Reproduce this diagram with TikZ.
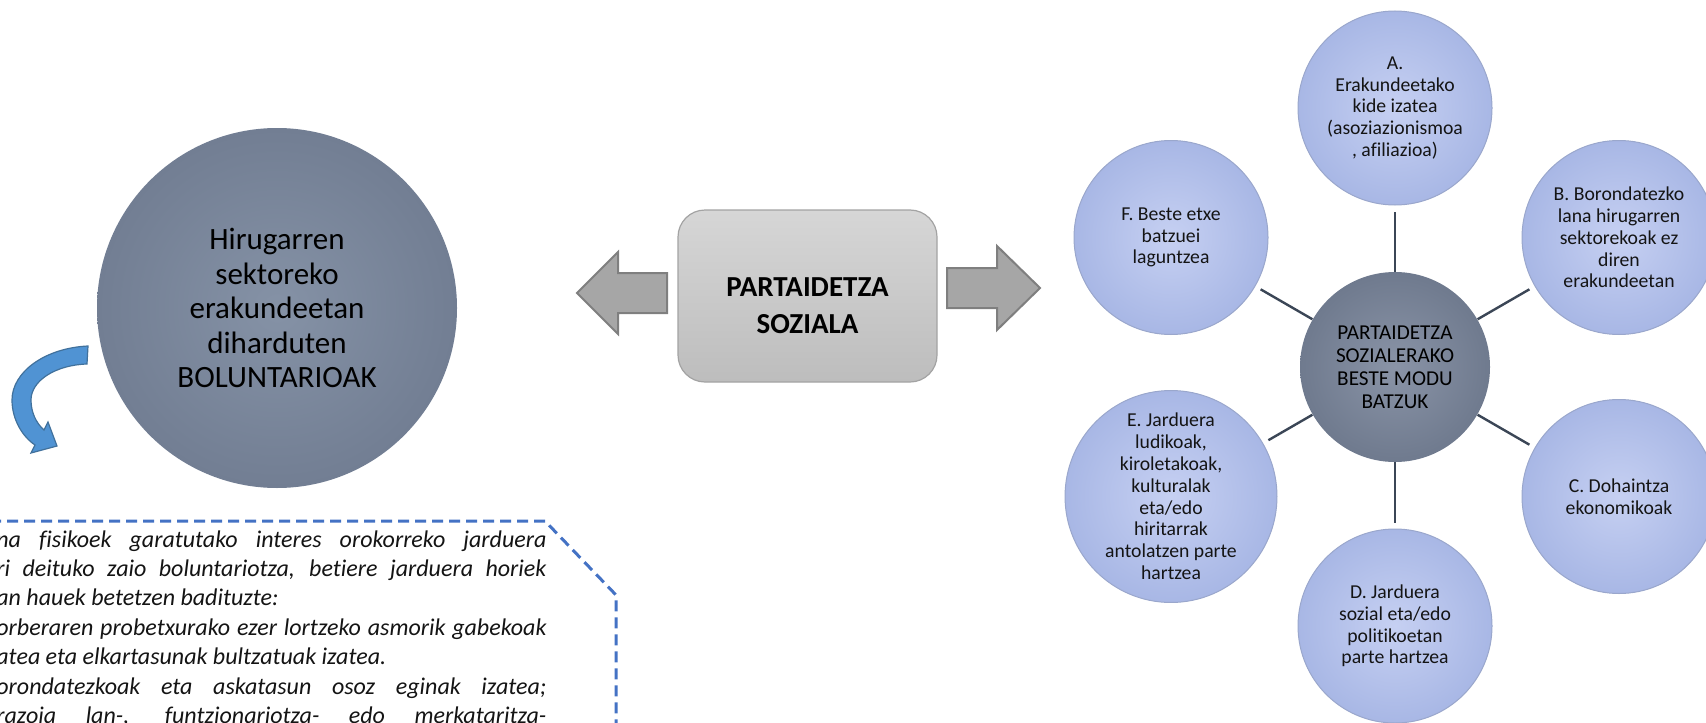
\documentclass[tikz,border=0pt]{standalone}
\usepackage{fontspec}
\setmainfont{Carlito}[Ligatures=NoCommon]
\definecolor{outin}{HTML}{C6D0F2}
\definecolor{outout}{HTML}{A8B7E5}
\definecolor{outrim}{HTML}{9AA7CC}
\definecolor{hubin}{HTML}{8A94A7}
\definecolor{hubout}{HTML}{6F7A8E}
\definecolor{bigin}{HTML}{8592A6}
\definecolor{bigout}{HTML}{727E93}
\definecolor{spokecol}{HTML}{3B4656}
\definecolor{arrowfill}{HTML}{A6A6A6}
\definecolor{arrowline}{HTML}{7F7F7F}
\definecolor{boxtop}{HTML}{D6D6D6}
\definecolor{boxbot}{HTML}{BDBDBD}
\definecolor{boxline}{HTML}{A3A3A3}
\definecolor{dashblue}{HTML}{4472C4}
\definecolor{curvefill}{HTML}{5093D3}
\definecolor{curveline}{HTML}{41719C}
\begin{document}
\begin{tikzpicture}[x=0.5pt,y=-0.5pt,
  outercirc/.style={circle, minimum size=97pt, inner sep=0pt, align=center,
    inner color=outin, outer color=outout, draw=outrim, line width=0.5pt, text=black!92,
    font=\fontsize{9.85}{10.9}\selectfont},
  hubcirc/.style={circle, minimum size=95pt, inner sep=0pt, align=center,
    inner color=hubin, outer color=hubout, text=black,
    font=\fontsize{10.6}{11.5}\selectfont},
  bigcirc/.style={circle, minimum size=180pt, inner sep=0pt, align=center,
    inner color=bigin, outer color=bigout, text=black,
    font=\fontsize{15.5}{17.25}\selectfont},
  spoke/.style={draw=spokecol, line width=1.2pt, shorten >=3pt},
  blockarrow/.style={fill=arrowfill, draw=arrowline, line width=1pt, line join=miter},
  centrebox/.style={rounded corners=13.5pt, minimum width=129.5pt, minimum height=86pt,
    draw=boxline, line width=0.6pt, top color=boxtop, bottom color=boxbot},
  boxtext/.style={align=center, font=\fontsize{14.5}{18.5}\selectfont\bfseries, text=black},
  dashedline/.style={draw=dashblue, line width=1.5pt, dash pattern=on 5.5pt off 3pt},
  deftextstyle/.style={anchor=north west, align=left, inner sep=0pt,
    font=\fontsize{12}{14.7}\selectfont\itshape, text=black!92},
]
\useasboundingbox (0,0) rectangle (1706,722);
\clip (0,0) rectangle (1706,722);

% left big circle
\node[bigcirc] (vol) at (277,308) {Hirugarren\\sektoreko\\erakundeetan\\diharduten\\BOLUNTARIOAK};

% curved blue arrow
\draw[fill=curvefill, draw=curveline, line width=0.6pt, line join=miter]
  (88,346) .. controls (45,348) and (12,372) .. (12,400)
  .. controls (12,420) and (23,437) .. (35,445)
  -- (31,453) -- (57,446) -- (48,422) -- (44,430)
  .. controls (36,423) and (31,412) .. (31,400)
  .. controls (31,381) and (55,365) .. (87,364) -- cycle;

% dashed frame
\draw[dashedline] (-10,521) -- (545,521) -- (616,595) -- (616,740);

% definition text
\node[deftextstyle] (deftext) at (-4,530) {%
\makebox[275pt][s]{na fisikoek garatutako interes orokorreko jarduera}\\
\makebox[275pt][s]{ri deituko zaio boluntariotza, betiere jarduera horiek}\\
\makebox[275pt][l]{an hauek betetzen badituzte:}\\
\makebox[275pt][s]{orberaren probetxurako ezer lortzeko asmorik gabekoak}\\
\makebox[275pt][l]{atea eta elkartasunak bultzatuak izatea.}\\
\makebox[275pt][s]{orondatezkoak eta askatasun osoz eginak izatea;}\\
\makebox[275pt][s]{razoia lan-, funtzionariotza- edo merkataritza-}};

% centre box and arrows
\node[centrebox] (sbox) at (807.5,296) {};
\node[boxtext] (sboxtext) at ([yshift=-5pt]sbox.center) {PARTAIDETZA\\SOZIALA};
\draw[blockarrow] (577,293) -- (618,252) -- (618,273) -- (667,273) -- (667,313) -- (618,313) -- (618,334) -- cycle;
\draw[blockarrow] (1040,288) -- (997,246) -- (997,268) -- (947,268) -- (947,308) -- (997,308) -- (997,330) -- cycle;

% radial diagram
\node[hubcirc] (hub) at (1395,367) {PARTAIDETZA\\SOZIALERAKO\\BESTE MODU\\BATZUK};
\node[outercirc] (A) at (1395,108) {A.\\Erakundeetako\\kide izatea\\(asoziazionismoa\\, afiliazioa)};
\node[outercirc] (B) at (1619,237.5) {B. Borondatezko\\lana hirugarren\\sektorekoak ez\\diren\\erakundeetan};
\node[outercirc] (C) at (1619,496.5) {C. Dohaintza\\ekonomikoak};
\node[outercirc] (D) at (1395,626) {D. Jarduera\\sozial eta/edo\\politikoetan\\parte hartzea};
\node[outercirc] (E) at (1171,496.5) {E. Jarduera\\ludikoak,\\kiroletakoak,\\kulturalak\\eta/edo\\hiritarrak\\antolatzen parte\\hartzea};
\node[outercirc] (F) at (1171,237.5) {F. Beste etxe\\batzuei\\laguntzea};
\foreach \n in {A,B,C,D,E,F} \draw[spoke] (hub) -- (\n);
\end{tikzpicture}
\end{document}
